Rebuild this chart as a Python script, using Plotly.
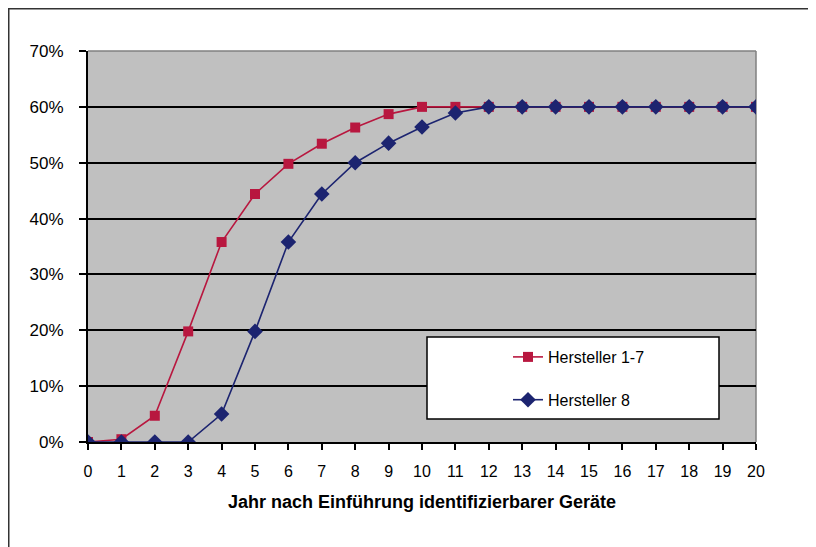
import plotly.graph_objects as go

years = list(range(0, 21))
hersteller_1_7 = [0.0, 0.005, 0.047, 0.198, 0.358, 0.444, 0.498, 0.534, 0.563, 0.587,
                  0.60, 0.60, 0.60, 0.60, 0.60, 0.60, 0.60, 0.60, 0.60, 0.60, 0.60]
hersteller_8 = [0.0, 0.0, 0.0, 0.0, 0.05, 0.198, 0.358, 0.444, 0.50, 0.535,
                0.564, 0.589, 0.60, 0.60, 0.60, 0.60, 0.60, 0.60, 0.60, 0.60, 0.60]
y_ticks = [0, 0.1, 0.2, 0.3, 0.4, 0.5, 0.6, 0.7]
y_labels = ["0%", "10%", "20%", "30%", "40%", "50%", "60%", "70%"]

FONT = "Liberation Sans, Arial, sans-serif"
RED = "#b8173f"
BLUE = "#1c2470"

# page renders with an 8px body offset; figure is sized to compensate
OFF = 8
W, H = 816 - OFF, 547 - OFF
L, T = 88 - OFF, 51 - OFF
pw, ph = 668, 391
R = W - L - pw
B = H - T - ph

def px(xs):
    return (xs - OFF - L) / pw

def py(ys):
    return (H - B - (ys - OFF)) / ph

fig = go.Figure()
fig.add_trace(go.Scatter(
    x=years, y=hersteller_1_7, name="Hersteller 1-7", mode="lines+markers",
    line=dict(color=RED, width=1.6),
    marker=dict(symbol="square", size=10, color=RED),
    legendgroup="a",
))
fig.add_trace(go.Scatter(
    x=years, y=hersteller_8, name="Hersteller 8", mode="lines+markers",
    line=dict(color=BLUE, width=1.6),
    marker=dict(symbol="diamond", size=12, color=BLUE),
    legendgroup="b",
))

shapes = [
    # outer chart frame
    dict(type="rect", xref="paper", yref="paper",
         x0=px(8.5), x1=px(840), y0=py(560), y1=py(8.5),
         line=dict(color="#333333", width=2), fillcolor="rgba(0,0,0,0)", layer="below"),
    # grey top and right plot border
    dict(type="line", xref="paper", yref="paper", x0=0, x1=1, y0=1, y1=1,
         line=dict(color="#808080", width=1.5), layer="between"),
    dict(type="line", xref="paper", yref="paper", x0=1, x1=1, y0=0, y1=1,
         line=dict(color="#808080", width=1.5), layer="between"),
    # legend box
    dict(type="rect", xref="paper", yref="paper",
         x0=px(427), x1=px(719), y0=py(419), y1=py(337),
         line=dict(color="black", width=1.5), fillcolor="white", layer="above"),
]

fig.update_layout(
    width=W, height=H,
    margin=dict(l=L, r=R, t=T, b=B),
    paper_bgcolor="white",
    plot_bgcolor="#c0c0c0",
    font=dict(family=FONT, size=16, color="black"),
    shapes=shapes,
    showlegend=True,
    legend=dict(
        x=px(508), y=py(340), xanchor="left", yanchor="top",
        bgcolor="rgba(0,0,0,0)", borderwidth=0,
        font=dict(size=16, family=FONT),
        tracegroupgap=19,
        itemwidth=30,
    ),
    xaxis=dict(
        range=[0, 20], tickmode="array", tickvals=years,
        ticktext=[str(v) for v in years],
        ticks="outside", ticklen=6, tickwidth=1.5, tickcolor="black",
        showline=True, linecolor="black", linewidth=2,
        showgrid=False, zeroline=False,
        ticklabelstandoff=8,
        tickfont=dict(size=16),
        title=dict(text="<b>Jahr nach Einführung identifizierbarer Geräte</b>",
                   font=dict(size=18), standoff=16),
    ),
    yaxis=dict(
        range=[0, 0.7], tickmode="array", tickvals=y_ticks, ticktext=y_labels,
        ticks="outside", ticklen=7, tickwidth=1.5, tickcolor="black",
        showline=True, linecolor="black", linewidth=2,
        showgrid=True, gridcolor="black", gridwidth=1.5,
        zeroline=False, ticklabelstandoff=12,
        tickfont=dict(size=17),
    ),
)

fig.write_html("out.html")
